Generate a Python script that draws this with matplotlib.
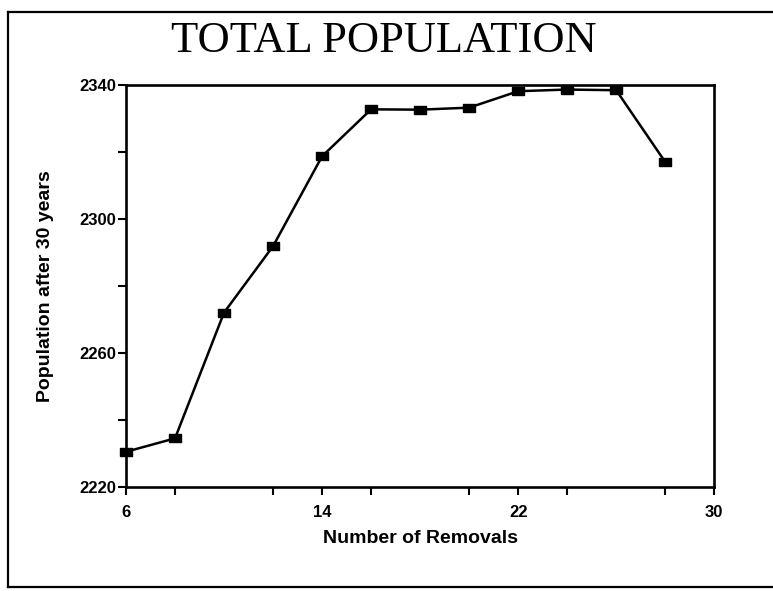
import matplotlib.pyplot as plt
from matplotlib.lines import Line2D
from matplotlib.ticker import MultipleLocator

# values
removals = [6, 8, 10, 12, 14, 16, 18, 20, 22, 24, 26, 28]
population = [2230.5, 2234.5, 2272, 2291.8, 2318.6, 2332.6, 2332.5, 2333.1, 2338, 2338.5, 2338.3, 2316.9]
x_ticks = [6, 14, 22, 30]
y_ticks = [2220, 2260, 2300, 2340]

plt.rcParams['font.family'] = ['Liberation Sans', 'DejaVu Sans']

fig = plt.figure(figsize=(7.73, 5.91), dpi=100)
ax = fig.add_axes([0.163, 0.176, 0.761, 0.681])

# wide flat square marker like the original plotter output
box = [(-1.4, -1), (1.4, -1), (1.4, 1), (-1.4, 1), (-1.4, -1)]
ax.plot(removals, population, color='black', linewidth=1.8,
        marker=box, markersize=8.5, markerfacecolor='black', clip_on=False)

ax.set_xlim(6, 30)
ax.set_ylim(2220, 2340)
ax.set_xticks(x_ticks)
ax.set_yticks(y_ticks)
ax.xaxis.set_minor_locator(MultipleLocator(4))
ax.yaxis.set_minor_locator(MultipleLocator(20))
ax.tick_params(which='both', direction='out', length=6, width=1.5, color='black')
ax.tick_params(axis='x', labelsize=12, pad=7)
ax.tick_params(axis='y', labelsize=12, pad=1)
for lab in ax.get_xticklabels() + ax.get_yticklabels():
    lab.set_fontweight('bold')
for s in ax.spines.values():
    s.set_linewidth(1.9)

ax.set_xlabel('Number of Removals', fontsize=14, fontweight='bold', labelpad=7)
ax.set_ylabel('Population after 30 years', fontsize=14, fontweight='bold', labelpad=18)

fig.text(0.497, 0.931, 'TOTAL POPULATION', ha='center', va='center',
         fontsize=32, family='Liberation Serif')

# frame of the scanned slide
for xs, ys in [([0.0105, 0.0105], [0.007, 0.98]),
               ([0.0105, 1.0], [0.98, 0.98]),
               ([0.0105, 1.0], [0.007, 0.007])]:
    fig.add_artist(Line2D(xs, ys, transform=fig.transFigure, color='black', linewidth=1.6))

fig.savefig('out.png', dpi=100)
